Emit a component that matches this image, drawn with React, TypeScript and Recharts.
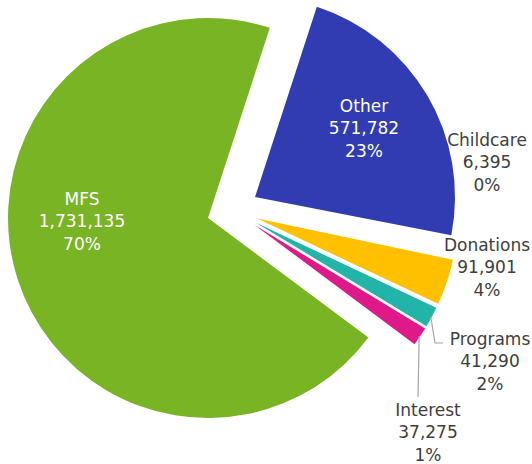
import React from "react";
import { PieChart, Pie, Cell, Sector } from "recharts";

const categories = ["Other", "Childcare", "Donations", "Programs", "Interest", "MFS"];
const amounts = [571782, 6395, 91901, 41290, 37275, 1731135];
const percentLabels = ["23%", "0%", "4%", "2%", "1%", "70%"];
const valueLabels = ["571,782", "6,395", "91,901", "41,290", "37,275", "1,731,135"];
const colors = ["#313CB3", "#FFFFFF", "#FFC000", "#22B3A9", "#E0198A", "#79B425"];

const data = categories.map((name, i) => ({
  name,
  value: amounts[i],
  valueLabel: valueLabels[i],
  pct: percentLabels[i],
}));

const W = 532;
const H = 464;
const CX = 232.7;
const CY = 210.2;
const R = 200;
const EXPLODE = 25.9;
const RAD = Math.PI / 180;
const FONT = "'DejaVu Sans', sans-serif";

// label layout: center x, first line center y, text colour
const labelLayout = [
  { x: 364, y: 106, color: "#FFFFFF" },
  { x: 487, y: 140, color: "#404040" },
  { x: 487, y: 245, color: "#404040" },
  { x: 490, y: 339, color: "#404040" },
  { x: 428, y: 410, color: "#404040" },
  { x: 82, y: 199, color: "#FFFFFF" },
];

// leader line bends (null = no leader)
const leaderLayout: (number[][] | null)[] = [
  null,
  null,
  null,
  [[435, 343], [443, 343]],
  [[418, 397]],
  null,
];

const explodedCenter = (cx: number, cy: number, midAngle: number) => ({
  x: cx + EXPLODE * Math.cos(midAngle * RAD),
  y: cy - EXPLODE * Math.sin(midAngle * RAD),
});

const renderShape = (props: any) => {
  const c = explodedCenter(props.cx, props.cy, props.midAngle);
  return <Sector {...props} cx={c.x} cy={c.y} stroke="none" />;
};

const renderLabel = (props: any) => {
  const { index, cx, cy, midAngle, outerRadius, payload } = props;
  const lay = labelLayout[index];
  const item = payload && payload.name ? payload : data[index];
  const lines = [item.name, item.valueLabel, item.pct];
  const lead = leaderLayout[index];
  let leader: React.ReactNode = null;
  if (lead) {
    const c = explodedCenter(cx, cy, midAngle);
    const ox = c.x + (outerRadius - 1) * Math.cos(midAngle * RAD);
    const oy = c.y - (outerRadius - 1) * Math.sin(midAngle * RAD);
    const pts = [[ox, oy], ...lead].map((p) => p.join(",")).join(" ");
    leader = <polyline points={pts} fill="none" stroke="#A6A6A6" strokeWidth={1.2} />;
  }
  return (
    <g key={`lbl-${index}`}>
      {leader}
      {lines.map((t, k) => (
        <text
          key={k}
          x={lay.x}
          y={lay.y + k * 22.7 + 5.5}
          textAnchor="middle"
          fill={lay.color}
          fontFamily={FONT}
          fontSize={17}
        >
          {t}
        </text>
      ))}
    </g>
  );
};

export default function App() {
  return (
    <div style={{ position: "absolute", left: 0, top: 0, width: W, height: H, background: "#fff" }}>
      <PieChart width={W} height={H} margin={{ top: 0, right: 0, bottom: 0, left: 0 }}>
        <Pie
          data={data}
          dataKey="value"
          nameKey="name"
          cx={CX}
          cy={CY}
          outerRadius={R}
          innerRadius={0}
          startAngle={72}
          endAngle={-288}
          paddingAngle={0}
          stroke="none"
          shape={renderShape}
          label={renderLabel}
          labelLine={false}
          isAnimationActive={false}
        >
          {data.map((d, i) => (
            <Cell key={d.name} fill={colors[i]} />
          ))}
        </Pie>
      </PieChart>
    </div>
  );
}
